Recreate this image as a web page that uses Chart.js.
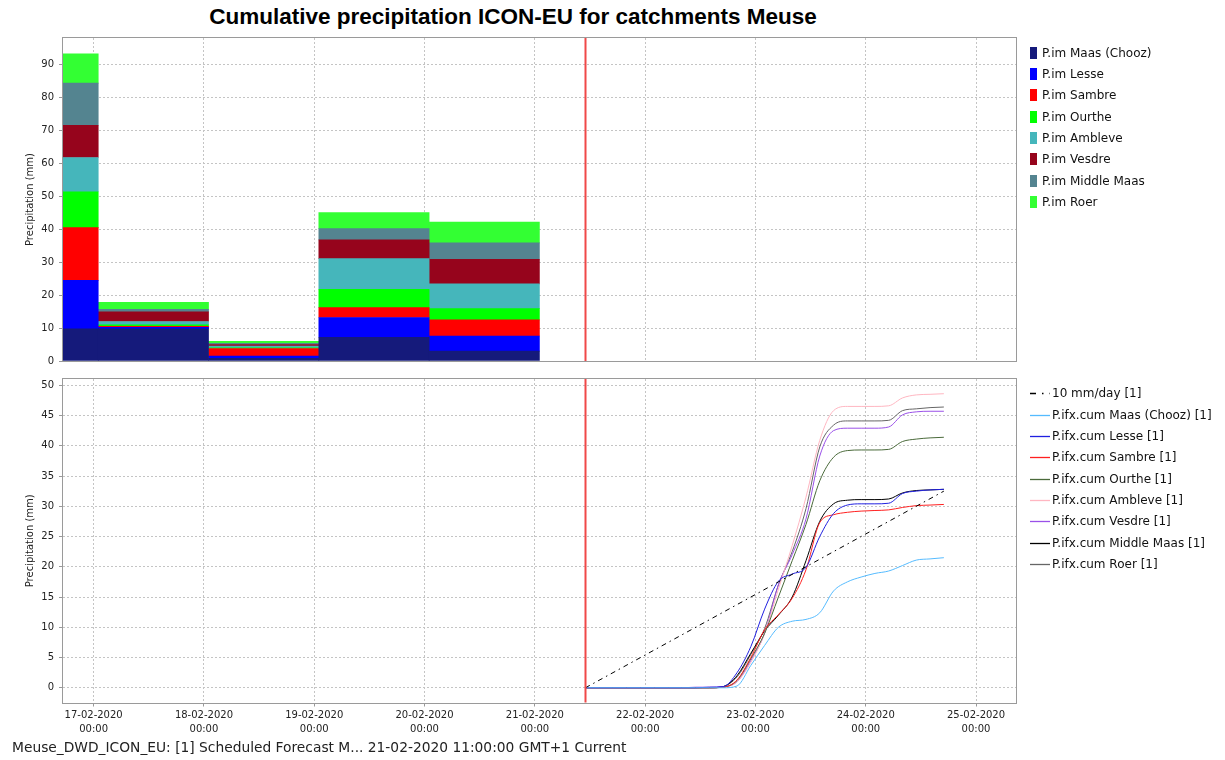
<!DOCTYPE html>
<html>
<head>
<meta charset="utf-8">
<title>Cumulative precipitation ICON-EU for catchments Meuse</title>
<script src="https://cdn.jsdelivr.net/npm/chart.js@4.4.1/dist/chart.umd.min.js"></script>
<style>
  body { margin:0; background:#fff; font-family:"DejaVu Sans", sans-serif; color:#222; }
  #wrap { position:relative; width:1225px; height:760px; overflow:hidden; }
  canvas { position:absolute; left:0; }
  #title { position:absolute; top:4px; left:0; width:1026px; text-align:center;
           font:bold 22.5px "Liberation Sans", Arial, sans-serif; color:#000; }
  .legend { position:absolute; left:1030px; font-size:12px; color:#111; }
  .legend div { height:21.35px; display:flex; align-items:center; white-space:nowrap; }
  .sq { display:inline-block; width:7px; height:12px; margin-right:5px; }
  .legend svg { margin-right:2px; }
  #footer { position:absolute; left:12px; top:739px; font-size:13.8px; white-space:nowrap; }
</style>
</head>
<body>
<div id="wrap">
  <div id="title">Cumulative precipitation ICON-EU for catchments Meuse</div>
  <canvas id="barChart" width="1225" height="340" style="top:30px"></canvas>
  <canvas id="cumChart" width="1225" height="380" style="top:370px"></canvas>
  <div class="legend" id="legTop" style="top:42px"></div>
  <div class="legend" id="legBottom" style="top:382.5px"></div>
  <div id="footer">Meuse_DWD_ICON_EU: [1] Scheduled Forecast M... 21-02-2020 11:00:00 GMT+1 Current</div>
</div>
<script>
// catchments, same order in both panels
const names = ["Maas (Chooz)", "Lesse", "Sambre", "Ourthe", "Ambleve", "Vesdre", "Middle Maas", "Roer"];
const barColors = ["#151a7b", "#0000ff", "#ff0000", "#00ff00", "#45b6bb", "#96041c", "#548490", "#33ff33"];
const lineColors = ["#55bbff", "#2020e0", "#ff2020", "#4a6a3a", "#ffb6c1", "#9a50e8", "#000000", "#666666"];

// axis window and day ticks
const xStart = "16-02-2020 17:20";
const xEnd = "25-02-2020 08:42";
const dayTicks = ["17-02-2020", "18-02-2020", "19-02-2020", "20-02-2020", "21-02-2020",
                  "22-02-2020", "23-02-2020", "24-02-2020", "25-02-2020"];
const forecastTime = "21-02-2020 11:00";

// daily observed precipitation (bars run 01:00 -> 01:00)
const barStarts = ["16-02-2020 01:00", "17-02-2020 01:00", "18-02-2020 01:00", "19-02-2020 01:00", "20-02-2020 01:00"];
const pimMaas    = [9.8, 9.8, 0.8, 7.2, 3.0];
const pimLesse   = [14.7, 0.4, 0.7, 6.0, 4.6];
const pimSambre  = [16.0, 0.3, 2.3, 3.0, 4.9];
const pimOurthe  = [10.9, 0.5, 0.2, 5.6, 3.4];
const pimAmbleve = [10.4, 1.0, 0.5, 9.3, 7.5];
const pimVesdre  = [9.8, 2.9, 0.5, 5.7, 7.5];
const pimMiddle  = [12.8, 0.8, 0.4, 3.4, 5.0];
const pimRoer    = [8.9, 2.1, 0.6, 4.9, 6.3];

// cumulative forecast
const lineTimes = ["21-02-2020 11:00", "21-02-2020 14:00", "21-02-2020 17:00", "21-02-2020 20:00", "21-02-2020 23:00",
  "22-02-2020 02:00", "22-02-2020 05:00", "22-02-2020 08:00", "22-02-2020 11:00", "22-02-2020 14:00",
  "22-02-2020 17:00", "22-02-2020 20:00", "22-02-2020 23:00", "23-02-2020 02:00", "23-02-2020 05:00",
  "23-02-2020 08:00", "23-02-2020 11:00", "23-02-2020 14:00", "23-02-2020 17:00", "23-02-2020 20:00",
  "23-02-2020 23:00", "24-02-2020 02:00", "24-02-2020 05:00", "24-02-2020 08:00", "24-02-2020 11:00",
  "24-02-2020 14:00", "24-02-2020 17:00"];
const cumMaas    = [0,0,0,0,0,0,0,0,0,0, 0.0, 0.3, 3.7, 7.0, 10.0, 11.0, 11.3, 12.4, 16.0, 17.5, 18.3, 18.9, 19.3, 20.2, 21.1, 21.3, 21.5];
const cumLesse   = [0,0,0,0,0,0,0,0,0,0.1, 0.2, 2.5, 6.8, 13.0, 17.6, 18.8, 19.9, 25.0, 28.8, 30.2, 30.4, 30.4, 30.5, 32.1, 32.5, 32.7, 32.8];
const cumSambre  = [0,0,0,0,0,0,0,0,0,0, 0.1, 1.3, 5.0, 9.6, 12.1, 14.8, 19.5, 27.3, 28.6, 29.0, 29.2, 29.3, 29.4, 29.8, 30.1, 30.2, 30.3];
const cumOurthe  = [0,0,0,0,0,0,0,0,0,0, 0.1, 1.2, 4.8, 9.0, 15.0, 21.0, 27.0, 34.2, 38.1, 39.2, 39.3, 39.3, 39.4, 40.7, 41.1, 41.3, 41.4];
const cumAmbleve = [0,0,0,0,0,0,0,0,0,0, 0.1, 1.0, 4.2, 9.0, 16.3, 23.5, 31.5, 40.9, 45.8, 46.5, 46.5, 46.5, 46.6, 47.9, 48.4, 48.5, 48.6];
const cumVesdre  = [0,0,0,0,0,0,0,0,0.1,0.1, 0.2, 1.0, 4.5, 9.0, 17.0, 22.0, 27.9, 38.3, 42.5, 42.9, 42.9, 42.9, 43.1, 45.1, 45.6, 45.7, 45.7];
const cumMiddle  = [0,0,0,0,0,0,0,0,0,0, 0.2, 2.0, 5.7, 9.4, 12.0, 15.0, 21.0, 27.5, 30.4, 31.0, 31.1, 31.1, 31.2, 32.2, 32.6, 32.7, 32.8];
const cumRoer    = [0,0,0,0,0,0,0,0,0,0, 0.2, 1.8, 5.5, 9.8, 17.0, 22.5, 29.6, 39.8, 43.4, 44.1, 44.1, 44.1, 44.2, 45.8, 46.1, 46.3, 46.4];
const refTimes = ["21-02-2020 11:00", "24-02-2020 17:00"];
const refValues = [0, 32.5];   // 10 mm/day

const barSeries = [pimMaas, pimLesse, pimSambre, pimOurthe, pimAmbleve, pimVesdre, pimMiddle, pimRoer];
const cumSeries = [cumMaas, cumLesse, cumSambre, cumOurthe, cumAmbleve, cumVesdre, cumMiddle, cumRoer];

// hours since 17-02-2020 00:00
function hrs(s) {
  const [d, t] = s.split(" ");
  const [dd, mm, yy] = d.split("-").map(Number);
  const [h, m] = (t || "00:00").split(":").map(Number);
  return (Date.UTC(yy, mm - 1, dd, h, m) - Date.UTC(2020, 1, 17)) / 3600000;
}

Chart.defaults.font.family = "'DejaVu Sans', sans-serif";
Chart.defaults.font.size = 10;
Chart.defaults.color = "#222";

const gridCol = "#c4c4c4";

function xAxis(labels) {
  return {
    type: "linear", min: hrs(xStart), max: hrs(xEnd), offset: false, stacked: true,
    afterBuildTicks: s => { s.ticks = dayTicks.map(d => ({ value: hrs(d) })); },
    afterFit: s => { s.height = labels ? 47.5 : 0; s.paddingLeft = 0; s.paddingRight = 0; },
    border: { display: false, dash: [2, 2] },
    grid: { color: gridCol, offset: false, drawTicks: labels,
            tickLength: 4, tickColor: "#999", tickBorderDash: [] },
    ticks: { display: labels, autoSkip: false, maxRotation: 0, padding: 2,
             font: { size: 10, lineHeight: 1.37 },
             callback: (v, i) => [dayTicks[i], "00:00"] }
  };
}
function yAxis(max, min, step) {
  return {
    min: min, max: max, stacked: true,
    afterFit: s => { s.width = 63; s.paddingTop = 0; s.paddingBottom = 0; },
    border: { display: false, dash: [2, 2] },
    grid: { color: gridCol, tickLength: 4, tickColor: "#999", tickBorderDash: [] },
    ticks: { stepSize: step, includeBounds: false, padding: 5 },
    title: { display: true, text: "Precipitation (mm)", font: { size: 10 }, padding: { top: 24, bottom: 0 } }
  };
}

// frame round the plot and the red forecast-time line
const plotFrame = {
  id: "plotFrame",
  afterDatasetsDraw(chart) {
    const { ctx, chartArea: a, scales: { x } } = chart;
    const px = Math.round(x.getPixelForValue(hrs(forecastTime)));
    ctx.save();
    ctx.fillStyle = "#f04848";
    ctx.fillRect(px - 0.5, a.top, 2, a.bottom - a.top);
    ctx.restore();
  },
  afterDraw(chart) {
    const { ctx, chartArea: a } = chart;
    ctx.save();
    ctx.setLineDash([]);
    ctx.strokeStyle = "#9a9a9a"; ctx.lineWidth = 1;
    ctx.strokeRect(Math.round(a.left) - 0.5, Math.round(a.top) - 0.5, Math.round(a.width) + 1, Math.round(a.height) + 1);
    ctx.restore();
  }
};

new Chart(document.getElementById("barChart"), {
  type: "bar",
  data: {
    datasets: barSeries.map((vals, i) => ({
      label: "P.im " + names[i],
      data: vals.map((v, k) => ({ x: hrs(barStarts[k]) + 12, y: v })),
      backgroundColor: barColors[i], borderWidth: 0,
      barPercentage: 1, categoryPercentage: 1, clip: 0
    }))
  },
  options: {
    responsive: false, animation: false,
    layout: { padding: { top: 8, right: 209, bottom: 9, left: 0 } },
    plugins: { legend: { display: false }, tooltip: { enabled: false } },
    scales: { x: xAxis(false), y: yAxis(98.1, 0, 10) }
  },
  plugins: [plotFrame]
});

const lineSets = [{
  label: "10 mm/day [1]",
  data: refValues.map((v, k) => ({ x: hrs(refTimes[k]), y: v })),
  borderColor: "#000", borderWidth: 1, borderDash: [5, 4, 1.5, 4]
}].concat(cumSeries.map((vals, i) => ({
  label: "P.ifx.cum " + names[i] + " [1]",
  data: vals.map((v, k) => ({ x: hrs(lineTimes[k]), y: v })),
  borderColor: lineColors[i], borderWidth: 1, cubicInterpolationMode: "monotone"
})));

new Chart(document.getElementById("cumChart"), {
  type: "line",
  data: { datasets: lineSets.map(d => Object.assign({ pointRadius: 0, fill: false, clip: 0 }, d)) },
  options: {
    responsive: false, animation: false,
    layout: { padding: { top: 9, right: 209, bottom: 0, left: 0 } },
    plugins: { legend: { display: false }, tooltip: { enabled: false } },
    scales: { x: xAxis(true), y: Object.assign(yAxis(51.03, -2.43, 5), { stacked: false }) }
  },
  plugins: [plotFrame]
});

// legends
const legTop = document.getElementById("legTop");
names.forEach((n, i) => {
  legTop.insertAdjacentHTML("beforeend",
    `<div><span class="sq" style="background:${barColors[i]}"></span>P.im ${n}</div>`);
});
const legBottom = document.getElementById("legBottom");
lineSets.forEach(d => {
  const dash = d.borderDash ? 'stroke-dasharray="6,6,1.5,6"' : "";
  legBottom.insertAdjacentHTML("beforeend",
    `<div><svg width="20" height="12"><line x1="0" y1="6.5" x2="20" y2="6.5" stroke="${d.borderColor}" stroke-width="1.3" ${dash}/></svg>${d.label}</div>`);
});
</script>
</body>
</html>
